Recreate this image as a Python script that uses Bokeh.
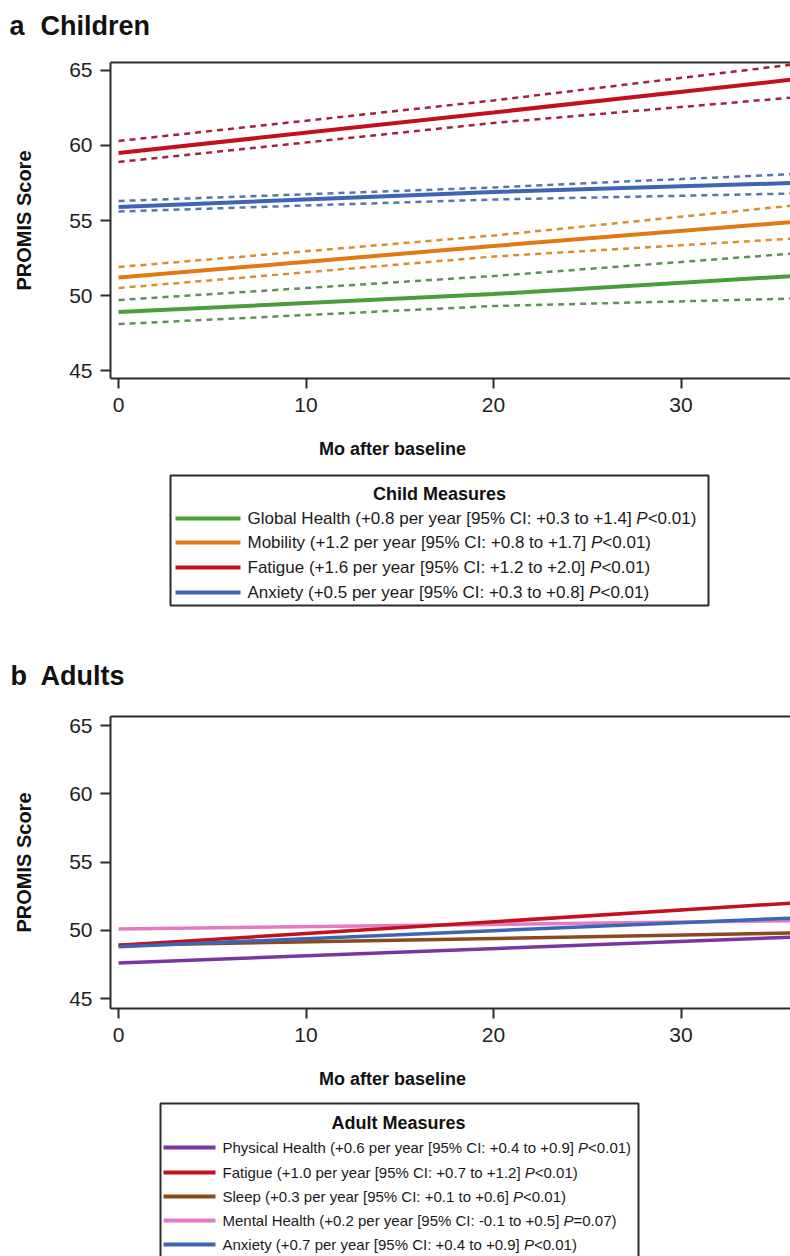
from bokeh.plotting import figure
from bokeh.models import Range1d, LinearAxis, FixedTicker
from bokeh.layouts import column
from bokeh.core.properties import value
from bokeh.embed import file_html
from bokeh.resources import INLINE

# ---------------- data ----------------
months = [0, 20, 36]

child_names = ["Global Health", "Mobility", "Fatigue", "Anxiety"]
child_global = [48.9, 50.1, 51.3]
child_global_hi = [49.7, 51.3, 52.8]
child_global_lo = [48.1, 49.3, 49.8]
child_mobility = [51.2, 53.3, 54.9]
child_mobility_hi = [51.9, 54.0, 56.0]
child_mobility_lo = [50.5, 52.6, 53.8]
child_fatigue = [59.5, 62.2, 64.4]
child_fatigue_hi = [60.3, 63.0, 65.4]
child_fatigue_lo = [58.9, 61.5, 63.2]
child_anxiety = [55.9, 56.9, 57.5]
child_anxiety_hi = [56.3, 57.2, 58.1]
child_anxiety_lo = [55.6, 56.4, 56.8]
child_stats = [
    "(+0.8 per year [95% CI: +0.3 to +1.4] ",
    "(+1.2 per year [95% CI: +0.8 to +1.7] ",
    "(+1.6 per year [95% CI: +1.2 to +2.0] ",
    "(+0.5 per year [95% CI: +0.3 to +0.8] ",
]
child_p = ["<0.01)", "<0.01)", "<0.01)", "<0.01)"]

adult_months = [0, 36]
adult_names = ["Physical Health", "Fatigue", "Sleep", "Mental Health", "Anxiety"]
adult_physical = [47.6, 49.5]
adult_fatigue = [48.9, 52.0]
adult_sleep = [48.9, 49.8]
adult_mental = [50.1, 50.7]
adult_anxiety = [48.8, 50.9]
adult_stats = [
    "(+0.6 per year [95% CI: +0.4 to +0.9] ",
    "(+1.0 per year [95% CI: +0.7 to +1.2] ",
    "(+0.3 per year [95% CI: +0.1 to +0.6] ",
    "(+0.2 per year [95% CI: -0.1 to +0.5] ",
    "(+0.7 per year [95% CI: +0.4 to +0.9] ",
]
adult_p = ["<0.01)", "<0.01)", "<0.01)", "=0.07)", "<0.01)"]

y_ticks = [45, 50, 55, 60, 65]
x_ticks = [0, 10, 20, 30]

# ---------------- styles ----------------
FONT = "Liberation Sans"
AX = "#2b2b2b"
C_GREEN, C_ORANGE, C_RED, C_BLUE = "#4a9e3a", "#e27a12", "#c3101c", "#3c66b4"
D_GREEN, D_ORANGE, D_RED, D_BLUE = "#5f8e58", "#d98e2e", "#a3203e", "#5676a6"
A_PURPLE, A_RED, A_BROWN, A_PINK, A_BLUE = "#7a35a0", "#c3101c", "#8a4a1c", "#e27bc4", "#3c66b4"

W = 790

# Arial / Liberation Sans advance widths (1/1000 em)
AW = {' ': 278, '(': 333, ')': 333, '+': 584, '-': 333, '.': 278, ':': 278, '<': 584, '=': 584,
      '[': 278, ']': 278, '%': 889, 'C': 722, 'I': 278, 'P': 667, 'G': 778, 'H': 722, 'M': 833,
      'F': 611, 'S': 667, 'A': 667,
      'a': 556, 'b': 556, 'c': 500, 'd': 556, 'e': 556, 'f': 278, 'g': 556, 'h': 556, 'i': 222,
      'k': 500, 'l': 222, 'm': 833, 'n': 556, 'o': 556, 'p': 556, 'q': 556, 'r': 333, 's': 500,
      't': 278, 'u': 556, 'v': 500, 'w': 722, 'x': 500, 'y': 500, 'z': 500}


def tw(s, size):
    return sum(AW.get(c, 556) for c in s) * size / 1000.0


def make_plot(height, y0, y1, bottom_border):
    p = figure(width=W, height=height, x_range=Range1d(-0.43, 35.84), y_range=Range1d(y0, y1),
               toolbar_location=None, output_backend="svg", frame_align=False,
               min_border_left=110, min_border_right=0, min_border_top=4,
               min_border_bottom=bottom_border)
    p.grid.visible = False
    p.outline_line_color = None
    p.background_fill_color = "white"
    for ax, ticks in ((p.xaxis[0], x_ticks), (p.yaxis[0], y_ticks)):
        ax.ticker = FixedTicker(ticks=ticks)
        ax.axis_line_color = AX
        ax.axis_line_width = 2
        ax.major_tick_line_color = AX
        ax.major_tick_line_width = 2
        ax.major_tick_in = 0
        ax.major_tick_out = 10
        ax.minor_tick_line_color = None
        ax.major_label_text_font = FONT
        ax.major_label_text_font_size = "21px"
        ax.major_label_text_color = "#222222"
    p.xaxis.major_label_standoff = 9
    p.yaxis.major_label_standoff = 8
    p.yaxis.axis_label = "PROMIS Score"
    p.yaxis.axis_label_text_font = FONT
    p.yaxis.axis_label_text_font_style = "bold"
    p.yaxis.axis_label_text_font_size = "20px"
    p.yaxis.axis_label_text_color = "#111111"
    p.yaxis.axis_label_standoff = 31
    top = LinearAxis(ticker=FixedTicker(ticks=[]), axis_line_color=AX, axis_line_width=2,
                     major_tick_line_color=None, minor_tick_line_color=None,
                     major_label_text_font_size="0px", major_label_standoff=0,
                     major_tick_out=0, major_tick_in=0, minor_tick_out=0, minor_tick_in=0)
    p.add_layout(top, "above")
    return p


def make_text_fig(height):
    p = figure(width=W, height=height, x_range=Range1d(0, W), y_range=Range1d(height, 0),
               toolbar_location=None, output_backend="svg", frame_align=False,
               min_border=0, min_border_left=0, min_border_right=0,
               min_border_top=0, min_border_bottom=0,
               x_axis_location=None, y_axis_location=None)
    p.grid.visible = False
    p.outline_line_color = None
    return p


def heading(p, letter, word, yc, lx):
    p.text(x=[lx], y=[yc], text=[letter], text_font=value(FONT), text_font_style="bold",
           text_font_size="27px", text_baseline="middle", text_color="#111111")
    p.text(x=[40], y=[yc], text=[word], text_font=value(FONT), text_font_style="bold",
           text_font_size="27px", text_baseline="middle", text_color="#111111")


def legend_block(p, box, title, title_xy, names, stats, pvals, colors, sx0, sx1, tx, ys, fs):
    l, r, t, b = box
    p.quad(left=[l], right=[r], top=[t], bottom=[b], fill_color=None, line_color=AX, line_width=2)
    p.text(x=[title_xy[0]], y=[title_xy[1]], text=[title], text_font=value(FONT),
           text_font_style="bold", text_font_size="18px", text_align="center",
           text_baseline="middle", text_color="#111111")
    p.segment(x0=[sx0] * len(names), x1=[sx1] * len(names), y0=ys, y1=ys,
              line_color=colors, line_width=4)
    main = [n + " " + s for n, s in zip(names, stats)]
    px = [tx + tw(m, fs) for m in main]
    rx = [x + tw("P", fs) for x in px]
    p.text(x=[tx] * len(names), y=ys, text=main, text_font=value(FONT),
           text_font_size="%gpx" % fs, text_baseline="middle", text_color="#1a1a1a")
    p.text(x=px, y=ys, text=["P"] * len(names), text_font=value(FONT), text_font_style="italic",
           text_font_size="%gpx" % fs, text_baseline="middle", text_color="#1a1a1a")
    p.text(x=rx, y=ys, text=pvals, text_font=value(FONT),
           text_font_size="%gpx" % fs, text_baseline="middle", text_color="#1a1a1a")


def xlabel(p, yc):
    p.text(x=[392], y=[yc], text=["Mo after baseline"], text_font=value(FONT),
           text_font_style="bold", text_font_size="18px", text_align="center",
           text_baseline="middle", text_color="#111111")


# ---------------- panel a ----------------
head_a = make_text_fig(58)
heading(head_a, "a", "Children", 25, 9)

pa = make_plot(367, 44.47, 65.53, 47)
child_sets = [
    (child_global, child_global_lo, child_global_hi, C_GREEN, D_GREEN),
    (child_mobility, child_mobility_lo, child_mobility_hi, C_ORANGE, D_ORANGE),
    (child_fatigue, child_fatigue_lo, child_fatigue_hi, C_RED, D_RED),
    (child_anxiety, child_anxiety_lo, child_anxiety_hi, C_BLUE, D_BLUE),
]
for est, lo, hi, c, d in child_sets:
    pa.line(months, lo, line_color=d, line_width=2.5, line_dash="6 5")
    pa.line(months, hi, line_color=d, line_width=2.5, line_dash="6 5")
for est, lo, hi, c, d in child_sets:
    pa.line(months, est, line_color=c, line_width=4)

leg_a = make_text_fig(287)
xlabel(leg_a, 23)
legend_block(leg_a, (170, 708, 50, 180), "Child Measures", (439, 68), child_names, child_stats,
             child_p, [C_GREEN, C_ORANGE, C_RED, C_BLUE], 175, 240, 247, [93, 117, 142, 167], 17)
heading(leg_a, "b", "Adults", 250, 10)

# ---------------- panel b ----------------
pb = make_plot(343, 44.27, 65.66, 47)
adult_sets = [
    (adult_physical, A_PURPLE),
    (adult_sleep, A_BROWN),
    (adult_mental, A_PINK),
    (adult_fatigue, A_RED),
    (adult_anxiety, A_BLUE),
]
for vals, c in adult_sets:
    pb.line(adult_months, vals, line_color=c, line_width=3.5)

leg_b = make_text_fig(201)
xlabel(leg_b, 23)
legend_block(leg_b, (160, 638, 48, 225), "Adult Measures", (398, 67), adult_names, adult_stats,
             adult_p, [A_PURPLE, A_RED, A_BROWN, A_PINK, A_BLUE], 163, 215, 222,
             [92, 117, 141, 165, 189], 15)

layout = column(head_a, pa, leg_a, pb, leg_b, spacing=0)
open("out.html", "w").write(file_html(layout, INLINE))
